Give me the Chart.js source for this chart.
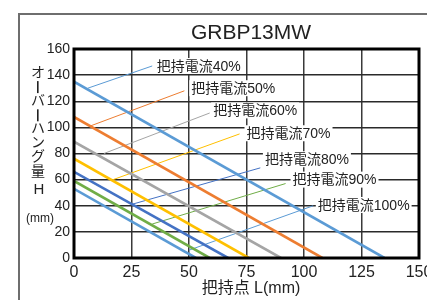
<!DOCTYPE html>
<html lang="ja">
<head>
    <meta charset="UTF-8">
    <title>GRBP13MW</title>
    <script src="https://cdn.jsdelivr.net/npm/chart.js"></script>
    <style>
        html, body { margin: 0; padding: 0; background: #fff; overflow: hidden; width: 427px; height: 300px; }
        #wrap { width: 440px; height: 300px; }
    </style>
</head>
<body>
    <div id="wrap"><canvas id="overhangChart" width="440" height="300"></canvas></div>
    <script>
        // 把持電流ごとの直線 (L=0 のときの H, H=0 のときの L)
        const currents = ['40%', '50%', '60%', '70%', '80%', '90%', '100%'];
        const startH = [135, 108, 89, 76, 66, 59, 53];
        const endL = [135, 108, 90, 76, 67, 59, 53];
        const colors = ['#5b9bd5', '#ed7d31', '#a5a5a5', '#ffc000', '#4472c4', '#70ad47', '#5b9bd5'];

        // 引き出し線 (データ座標)
        const calloutFromL = [6, 7, 13, 17, 25, 34, 50];
        const calloutFromH = [130, 101, 80, 60, 41, 26, 6];
        const calloutToL = [34, 48, 59, 72, 81, 92, 104];
        const calloutToH = [147, 128, 111, 95, 69, 57, 40];
        const labelL = [36, 51, 60.5, 75, 83, 95, 106];
        const labelH = [147, 130, 113, 95.5, 75.6, 60, 40.6];

        const xTicks = [0, 25, 50, 75, 100, 125, 150];
        const yTicks = [0, 20, 40, 60, 80, 100, 120, 140, 160];

        const latin = "'Liberation Sans', 'Noto Sans CJK JP', sans-serif";

        const datasets = [];
        currents.forEach((c, i) => {
            datasets.push({
                label: '把持電流' + c,
                data: [{ x: 0, y: startH[i] }, { x: endL[i], y: 0 }],
                borderColor: colors[i],
                borderWidth: 2.6,
                pointRadius: 0,
                order: 1
            });
        });
        currents.forEach((c, i) => {
            datasets.push({
                label: 'callout' + c,
                data: [{ x: calloutFromL[i], y: calloutFromH[i] }, { x: calloutToL[i], y: calloutToH[i] }],
                borderColor: colors[i],
                borderWidth: 1,
                pointRadius: 0,
                order: 2
            });
        });

        // 枠・タイトル・ラベル描画
        const decor = {
            id: 'decor',
            beforeDraw(chart) {
                const ctx = chart.ctx;
                ctx.save();
                ctx.fillStyle = '#fff';
                ctx.fillRect(0, 0, chart.width, chart.height);
                ctx.strokeStyle = '#6e6e6e';
                ctx.lineWidth = 2;
                ctx.strokeRect(19, 14, 600, 400);
                ctx.restore();
            },
            afterDatasetsDraw(chart) {
                const ctx = chart.ctx;
                const xs = chart.scales.x, ys = chart.scales.y;
                const a = chart.chartArea;
                ctx.save();
                // 文字ラベル
                ctx.font = "14px " + latin;
                ctx.textBaseline = 'middle';
                currents.forEach((c, i) => {
                    const t = '把持電流' + c;
                    const px = xs.getPixelForValue(labelL[i]);
                    const py = ys.getPixelForValue(labelH[i]);
                    const w = ctx.measureText(t).width;
                    ctx.fillStyle = '#fff';
                    ctx.fillRect(px - 2, py - 8, w + 4, 16);
                    ctx.fillStyle = '#222';
                    ctx.fillText(t, px, py + 1);
                });
                // 太枠
                ctx.strokeStyle = '#000';
                ctx.lineWidth = 3;
                ctx.strokeRect(a.left, a.top, a.right - a.left, a.bottom - a.top);
                // タイトル
                ctx.fillStyle = '#222';
                ctx.textAlign = 'center';
                ctx.font = "21px " + latin;
                ctx.fillText('GRBP13MW', 251, 33);
                // X軸タイトル
                ctx.font = "16px " + latin;
                ctx.fillText('把持点 L(mm)', 251, 289);
                // Y軸タイトル (縦書き)
                ctx.font = "14px " + latin;
                const chars = ['オ', 'ー', 'バ', 'ー', 'ハ', 'ン', 'グ', '量'];
                chars.forEach((ch, k) => {
                    const cy = 73 + k * 14.1;
                    if (ch === 'ー') {
                        ctx.fillRect(37, cy - 6, 1.6, 12);
                    } else {
                        ctx.fillText(ch, 38, cy);
                    }
                });
                ctx.font = "15px " + latin;
                ctx.fillText('H', 39, 190);
                ctx.font = "12px " + latin;
                ctx.fillText('(mm)', 40, 219);
                ctx.restore();
            }
        };

        const ctx = document.getElementById('overhangChart').getContext('2d');
        new Chart(ctx, {
            type: 'line',
            data: { datasets: datasets },
            options: {
                responsive: false,
                animation: false,
                layout: { padding: { left: 0, top: 49, right: 21, bottom: 0 } },
                plugins: { legend: { display: false }, tooltip: { enabled: false } },
                scales: {
                    x: {
                        type: 'linear',
                        min: 0,
                        max: 150,
                        afterBuildTicks: s => { s.ticks = xTicks.map(v => ({ value: v })); },
                        afterFit: s => { s.height = 42; },
                        grid: { color: '#3a3a3a', lineWidth: 1.5, drawTicks: false },
                        border: { display: false },
                        ticks: { color: '#222', padding: 5, font: { size: 16, family: latin }, maxRotation: 0 }
                    },
                    y: {
                        min: 0,
                        max: 160,
                        afterBuildTicks: s => { s.ticks = yTicks.map(v => ({ value: v })); },
                        afterFit: s => { s.width = 74; },
                        grid: { color: '#2a2a2a', lineWidth: 1.5, drawTicks: false },
                        border: { display: false },
                        ticks: { color: '#222', padding: 4, font: { size: 14, family: latin } }
                    }
                }
            },
            plugins: [decor]
        });
    </script>
</body>
</html>
